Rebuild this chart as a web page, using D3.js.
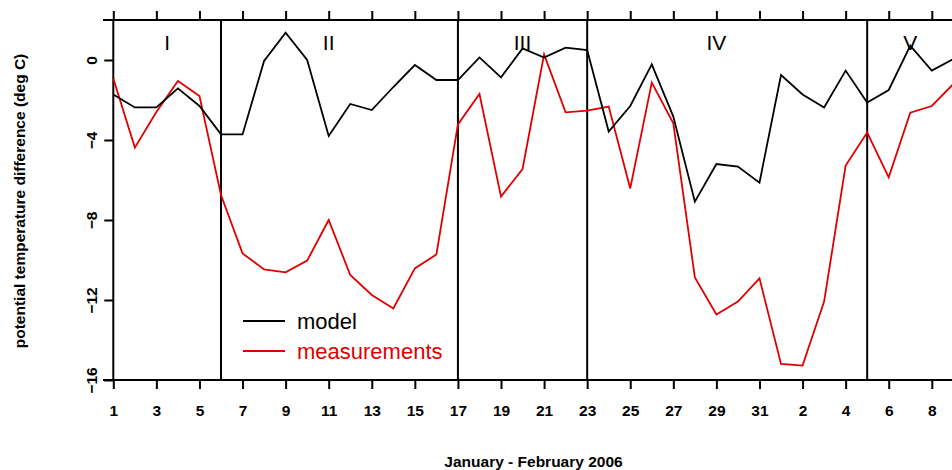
<!DOCTYPE html>
<html>
<head>
<meta charset="utf-8">
<script src="https://cdn.jsdelivr.net/npm/d3@7"></script>
<style>
  html, body { margin: 0; padding: 0; background: #fff; overflow: hidden; }
  svg { display: block; font-family: "Liberation Sans", Arial, sans-serif; }
</style>
</head>
<body>
<svg id="chart" width="952" height="470"></svg>
<script>
// Day index counted from 1 January 2006 (32 = 1 February)
const days = [1,2,3,4,5,6,7,8,9,10,11,12,13,14,15,16,17,18,19,20,
              21,22,23,24,25,26,27,28,29,30,31,32,33,34,35,36,37,38,39,40];

// Potential temperature difference (deg C)
const model = [-1.72,-2.37,-2.37,-1.42,-2.3,-3.72,-3.72,-0.05,1.37,0.0,
               -3.8,-2.2,-2.5,-1.35,-0.25,-1.0,-1.0,0.13,-0.87,0.58,
               0.12,0.62,0.5,-3.58,-2.3,-0.22,-2.83,-7.08,-5.2,-5.33,
               -6.13,-0.75,-1.72,-2.37,-0.53,-2.13,-1.5,0.72,-0.53,0.05];
const measurements = [-0.92,-4.38,-2.6,-1.05,-1.8,-6.75,-9.67,-10.47,-10.62,-10.03,
                      -8.0,-10.75,-11.75,-12.42,-10.42,-9.72,-3.22,-1.7,-6.83,-5.45,
                      0.28,-2.62,-2.53,-2.33,-6.42,-1.13,-3.17,-10.87,-12.72,-12.08,
                      -10.92,-15.2,-15.28,-12.08,-5.28,-3.63,-5.87,-2.63,-2.3,-1.2];

// Bottom/top axis ticks (every second day) and their date labels
const xTicks = [1,3,5,7,9,11,13,15,17,19,21,23,25,27,29,31,33,35,37,39];
const xTickLabels = ["1","3","5","7","9","11","13","15","17","19","21","23",
                     "25","27","29","31","2","4","6","8"];
const yTicks = [0,-4,-8,-12,-16];

// Period boundaries and their names
const periodBreaks = [6,17,23,36];
const periodNames = ["I","II","III","IV","V"];
const periodLabelDays = [3.5,11,20,29,38];

const svg = d3.select("#chart");

const x = d3.scaleLinear().domain([1, 39]).range([113.3, 931.8]);
const y = d3.scaleLinear().domain([-16, 2]).range([380, 20]);

const plotLeft = x(1), xLineStart = 103;

// Frame lines
const frame = svg.append("g").attr("stroke", "#000").attr("stroke-width", 2);
frame.append("line").attr("x1", xLineStart).attr("x2", 952).attr("y1", y(2)).attr("y2", y(2));
frame.append("line").attr("x1", xLineStart).attr("x2", 952).attr("y1", y(-16)).attr("y2", y(-16));
frame.append("line").attr("x1", plotLeft).attr("x2", plotLeft).attr("y1", y(2)).attr("y2", y(-16));

// Period separators
svg.append("g").selectAll("line").data(periodBreaks).join("line")
  .attr("x1", d => x(d)).attr("x2", d => x(d))
  .attr("y1", y(2)).attr("y2", y(-16))
  .attr("stroke", "#000").attr("stroke-width", 2);

// Bottom axis
const labelOf = d => xTickLabels[xTicks.indexOf(d)];
const bottomAxis = svg.append("g").attr("transform", `translate(0,${y(-16)})`)
  .call(d3.axisBottom(x).tickValues(xTicks).tickSize(9).tickSizeOuter(0).tickFormat(labelOf));
bottomAxis.select(".domain").remove();
bottomAxis.selectAll(".tick line").attr("stroke-width", 2);
bottomAxis.selectAll(".tick text")
  .attr("y", 36).attr("dy", 0)
  .attr("font-size", 15.5).attr("font-weight", "bold")
  .attr("font-family", "Liberation Sans, Arial, sans-serif").attr("fill", "#000");

// Top axis (ticks only)
const topAxis = svg.append("g").attr("transform", `translate(0,${y(2)})`)
  .call(d3.axisTop(x).tickValues(xTicks).tickSize(9).tickSizeOuter(0).tickFormat(""));
topAxis.select(".domain").remove();
topAxis.selectAll(".tick line").attr("stroke-width", 2);

// Left axis with rotated labels
const leftAxis = svg.append("g").attr("transform", `translate(${plotLeft},0)`)
  .call(d3.axisLeft(y).tickValues(yTicks).tickSize(9).tickSizeOuter(0).tickFormat(d3.format("d")));
leftAxis.select(".domain").remove();
leftAxis.selectAll(".tick line").attr("stroke-width", 2);
leftAxis.selectAll(".tick text")
  .attr("x", 0).attr("dy", 0).attr("y", 0)
  .attr("text-anchor", "middle")
  .attr("transform", "translate(-16,0) rotate(-90)")
  .attr("font-size", 15.5).attr("font-weight", "bold")
  .attr("font-family", "Liberation Sans, Arial, sans-serif").attr("fill", "#000");

// Data lines
const line = d3.line().x((d, i) => x(days[i])).y(d => y(d));
svg.append("path").datum(measurements)
  .attr("d", line).attr("fill", "none")
  .attr("stroke", "#e00000").attr("stroke-width", 1.8).attr("stroke-linejoin", "miter");
svg.append("path").datum(model)
  .attr("d", line).attr("fill", "none")
  .attr("stroke", "#000").attr("stroke-width", 1.8).attr("stroke-linejoin", "miter");

// Period names
svg.append("g").selectAll("text").data(periodNames).join("text")
  .attr("x", (d, i) => x(periodLabelDays[i]))
  .attr("y", 50)
  .attr("text-anchor", "middle")
  .attr("font-size", 21)
  .attr("fill", "#000")
  .text(d => d);

// Legend
const legendItems = [
  { name: "model", color: "#000" },
  { name: "measurements", color: "#e00000" }
];
const legend = svg.append("g").selectAll("g").data(legendItems).join("g")
  .attr("transform", (d, i) => `translate(243,${321 + i * 30})`);
legend.append("line").attr("x1", 0).attr("x2", 42)
  .attr("stroke", d => d.color).attr("stroke-width", 1.8);
legend.append("text").attr("x", 54).attr("y", 7.5)
  .attr("font-size", 22).attr("fill", d => d.color).text(d => d.name);

// Axis titles
svg.append("text")
  .attr("x", 533.5).attr("y", 467)
  .attr("text-anchor", "middle").attr("font-size", 15.5).attr("font-weight", "bold")
  .text("January - February 2006");
svg.append("text")
  .attr("transform", "translate(25,201) rotate(-90)")
  .attr("text-anchor", "middle").attr("font-size", 15.5).attr("font-weight", "bold")
  .text("potential temperature difference (deg C)");
</script>
</body>
</html>
